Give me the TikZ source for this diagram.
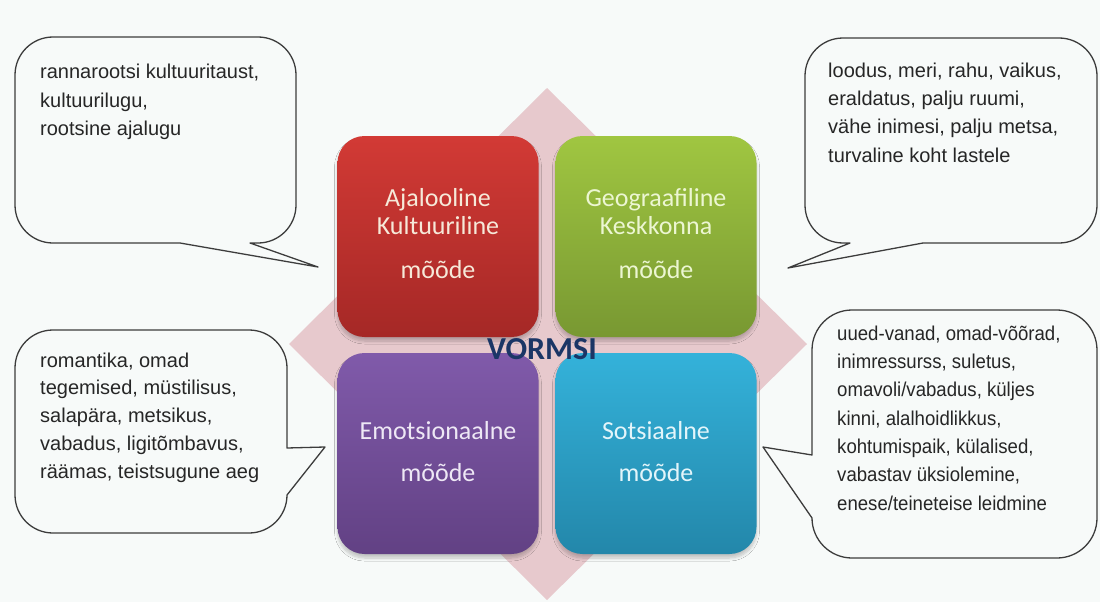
\documentclass[tikz,border=0pt]{standalone}
\usepackage{fontspec}
\newfontfamily\calibfont{Carlito}
\newfontfamily\arialfont{Liberation Sans}
\newfontfamily\arialnarrow{Liberation Sans}[FakeStretch=0.93]
\usetikzlibrary{shadows.blur}

\definecolor{bg}{RGB}{247,250,249}
\definecolor{diam}{RGB}{231,201,205}
\definecolor{redtop}{RGB}{210,58,53}
\definecolor{redbot}{RGB}{165,40,38}
\definecolor{redtxt}{RGB}{246,233,217}
\definecolor{greentop}{RGB}{160,198,65}
\definecolor{greenbot}{RGB}{120,152,50}
\definecolor{greentxt}{RGB}{236,246,210}
\definecolor{purpletop}{RGB}{128,90,170}
\definecolor{purplebot}{RGB}{98,65,132}
\definecolor{purpletxt}{RGB}{238,232,245}
\definecolor{bluetop}{RGB}{52,178,218}
\definecolor{bluebot}{RGB}{35,135,170}
\definecolor{bluetxt}{RGB}{227,245,250}
\definecolor{vorm}{RGB}{27,54,102}
\definecolor{ink}{RGB}{38,38,38}
\definecolor{edge}{RGB}{60,60,60}

\tikzset{
  square/.style={minimum width=201pt, minimum height=201pt, rounded corners=27pt,
    inner sep=0pt,
    blur shadow={shadow xshift=0pt, shadow yshift=-4pt, shadow opacity=22,
                 shadow blur steps=8, shadow blur radius=3pt}},
  sqtext/.style={anchor=north, inner sep=0pt, align=center,
    font=\calibfont\fontsize{26}{28}\selectfont},
  bubble/.style={draw=edge, line width=1.3pt, fill=bg, line join=round},
  btext/.style={anchor=north west, inner sep=0pt, align=left, text=ink,
    font=\arialfont\fontsize{20}{28.3}\selectfont},
}

\begin{document}
\begin{tikzpicture}[x=1pt,y=-1pt]
  \useasboundingbox (0,0) rectangle (1100,602);
  \fill[bg] (0,0) rectangle (1100,602);

  % pink diamond behind the four dimensions
  \fill[diam] (547,88) -- (807,344) -- (547,600) -- (289,344) -- cycle;

  % the four dimensions
  \node[square, top color=redtop, bottom color=redbot] (hist) at (438,236.5) {};
  \node[square, top color=greentop, bottom color=greenbot] (geo) at (656,236.5) {};
  \node[square, top color=purpletop, bottom color=purplebot] (emo) at (438,453.5) {};
  \node[square, top color=bluetop, bottom color=bluebot] (soc) at (656,453.5) {};

  \node[sqtext, text=redtxt] (hist-t) at (438,186.4)
    {\strut Ajalooline\\Kultuuriline\\[16pt]mõõde};
  \node[sqtext, text=greentxt] (geo-t) at (656,186.4)
    {\strut Geograafiline\\Keskkonna\\[16pt]mõõde};
  \node[sqtext, text=purpletxt] (emo-t) at (438,419.4)
    {\strut Emotsionaalne\\[14pt]mõõde};
  \node[sqtext, text=bluetxt] (soc-t) at (656,419.4)
    {\strut Sotsiaalne\\[14pt]mõõde};

  \node[font=\calibfont\bfseries\fontsize{32}{34}\selectfont, text=vorm, inner sep=0pt]
    (vormsi) at (542,349) {VORMSI};

  % speech bubbles (rounded rectangles with a pointed tail)
  \draw[bubble] (15,75) -- (15,205) .. controls (15,226) and (32,243) .. (53,243)
    -- (180,243) -- (318,267) -- (250,243) -- (258,243)
    .. controls (279,243) and (296,226) .. (296,205) -- (296,75)
    .. controls (296,54) and (279,37) .. (258,37) -- (53,37)
    .. controls (32,37) and (15,54) .. (15,75) -- cycle;
  \draw[bubble] (805,76) -- (805,205) .. controls (805,226) and (822,243) .. (843,243)
    -- (850,243) -- (788,268) -- (923,243) -- (1059,243)
    .. controls (1080,243) and (1097,226) .. (1097,205) -- (1097,76)
    .. controls (1097,55) and (1080,38) .. (1059,38) -- (843,38)
    .. controls (822,38) and (805,55) .. (805,76) -- cycle;
  \draw[bubble] (15,368) -- (15,495) .. controls (15,516) and (32,533) .. (53,533)
    -- (249,533) .. controls (270,533) and (287,516) .. (287,495)
    -- (325,447) -- (287,448) -- (287,368)
    .. controls (287,347) and (270,330) .. (249,330) -- (53,330)
    .. controls (32,330) and (15,347) .. (15,368) -- cycle;
  \draw[bubble] (812,350) -- (812,455) -- (763,447) -- (812,518)
    .. controls (812,540) and (830,558) .. (852,558) -- (1057,558)
    .. controls (1079,558) and (1097,540) .. (1097,518) -- (1097,350)
    .. controls (1097,328) and (1079,310) .. (1057,310) -- (852,310)
    .. controls (830,310) and (812,328) .. (812,350) -- cycle;

  \node[btext] (hist-b) at (40,58.7)
    {\strut rannarootsi kultuuritaust,\\kultuurilugu,\\rootsine ajalugu};
  \node[btext] (geo-b) at (828,57.2)
    {\strut loodus, meri, rahu, vaikus,\\eraldatus, palju ruumi,\\vähe inimesi, palju metsa,\\turvaline koht lastele};
  \node[btext, font=\arialfont\fontsize{20}{27.75}\selectfont] (emo-b) at (40,347.6)
    {\strut romantika, omad\\tegemised, müstilisus,\\salapära, metsikus,\\vabadus, ligitõmbavus,\\räämas, teistsugune aeg};
  \node[btext, font=\arialnarrow\fontsize{20}{28.3}\selectfont] (soc-b) at (837,320.2)
    {\strut uued-vanad, omad-võõrad,\\inimressurss, suletus,\\omavoli/vabadus, küljes\\kinni, alalhoidlikkus,\\kohtumispaik, külalised,\\vabastav üksiolemine,\\enese/teineteise leidmine};
\end{tikzpicture}
\end{document}
